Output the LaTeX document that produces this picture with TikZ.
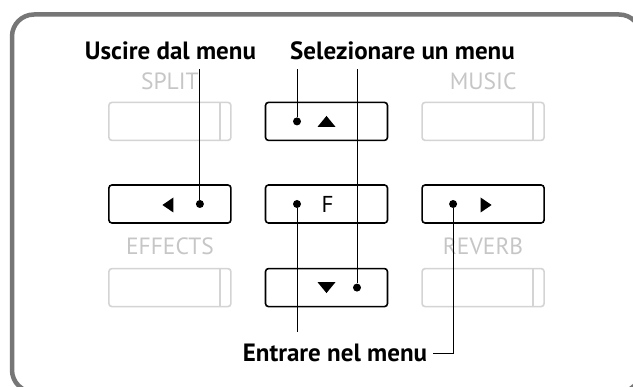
\documentclass[tikz,border=0pt]{standalone}
\usepackage{fontspec}
\setmainfont{PT Sans}
\usepackage{tikz}
\usepackage{xcolor}
\definecolor{FrameGray}{RGB}{118,118,118}
\definecolor{GhostGray}{RGB}{212,212,212}
\definecolor{GhostText}{RGB}{198,198,198}
\usetikzlibrary{positioning,calc}

\begin{document}
\begin{tikzpicture}[x=1pt, y=-1pt,
    btn/.style={rectangle, draw=black, line width=1.6pt, rounded corners=3pt,
                minimum width=122pt, minimum height=38pt, inner sep=0pt,
                font=\fontsize{23}{25}\selectfont},
    ghost/.style={btn, draw=GhostGray,
                path picture={\draw[GhostGray, line width=1.6pt]
                    ([xshift=-11pt]path picture bounding box.north east) --
                    ([xshift=-11pt]path picture bounding box.south east);}},
    gtext/.style={inner sep=0pt, text depth=0pt, text=GhostText,
                font=\fontsize{23.5}{25}\selectfont},
    caption/.style={inner sep=0pt, text depth=0pt, anchor=base,
                font=\bfseries\fontsize{25}{27}\selectfont},
    dot/.style={circle, fill=black, inner sep=0pt, minimum size=8pt},
    lead/.style={line width=1pt}
]
    \useasboundingbox[fill=white] (0,0) rectangle (633,387);
    \draw[FrameGray, line width=4.5pt, rounded corners=22pt] (12,14.5) rectangle (641,392);

    \node[btn] (fkey) at (326.5,204) {};
    \node[btn, left=33pt of fkey] (leftkey) {};
    \node[btn, right=33pt of fkey] (rightkey) {};
    \node[btn, above=43pt of fkey] (upkey) {};
    \node[btn, below=44pt of fkey] (downkey) {};
    \node[ghost, above=43pt of leftkey] (split) {};
    \node[ghost, above=43pt of rightkey] (music) {};
    \node[ghost, below=44pt of leftkey] (effects) {};
    \node[ghost, below=44pt of rightkey] (reverb) {};

    \node[gtext, above=11.5pt of split] (splitlbl) {SPLIT};
    \node[gtext, above=11.5pt of music] (musiclbl) {MUSIC};
    \node[gtext, above=13.5pt of effects] (effectslbl) {EFFECTS};
    \node[gtext, above=13.5pt of reverb] (reverblbl) {REVERB};

    \node[dot] (dotleft) at ([xshift=30pt]leftkey.center) {};
    \node[dot] (dotf) at ([xshift=-29.5pt]fkey.center) {};
    \node[dot] (dotright) at ([xshift=-30pt]rightkey.center) {};
    \node[dot] (dotup) at ([xshift=-29.5pt]upkey.center) {};
    \node[dot] (dotdown) at ([xshift=30.5pt]downkey.center) {};

    \node[inner sep=0pt, font=\fontsize{23}{25}\selectfont] (fsign) at ([xshift=1pt]fkey.center) {F};
    \fill ([shift={(-9,5.5)}]upkey.center) -- ++(18,0) -- ++(-9,-11) -- cycle;
    \fill ([shift={(-9,-5.5)}]downkey.center) -- ++(18,0) -- ++(-9,11) -- cycle;
    \fill ([shift={(-7.5,1)}]leftkey.center) -- ++(11,-7.5) -- ++(0,15) -- cycle;
    \fill ([shift={(8.5,1)}]rightkey.center) -- ++(-11,-7.5) -- ++(0,15) -- cycle;

    \node[caption] (uscire) at (170.5,60) {Uscire dal menu};
    \node[caption] (seleziona) at (402.5,60) {Selezionare un menu};
    \node[caption] (entrare) at (335,362) {Entrare nel menu};

    \draw[lead] ([yshift=-9pt]uscire.south -| dotleft) -- (dotleft);
    \draw[lead] ([yshift=-9pt]seleziona.south -| dotup) -- (dotup);
    \draw[lead] ([yshift=-9pt]seleziona.south -| dotdown) -- (dotdown);
    \draw[lead] (dotf) -- ([yshift=12pt]entrare.north -| dotf);
    \draw[lead] (dotright) |- ([xshift=6pt]entrare.east);
\end{tikzpicture}
\end{document}
